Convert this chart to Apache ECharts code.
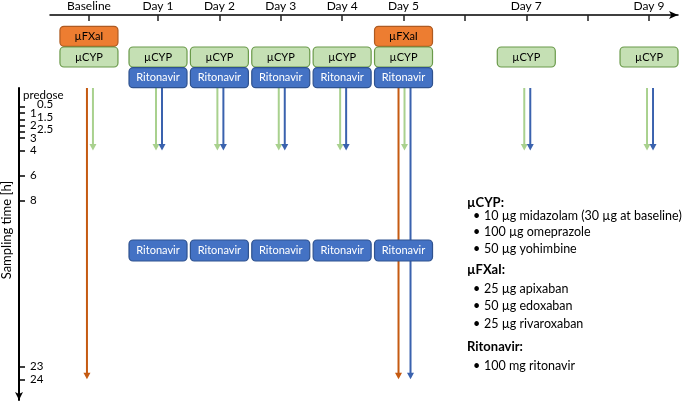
<!DOCTYPE html>
<html><head><meta charset="utf-8">
<script src="https://cdn.jsdelivr.net/npm/echarts@6/dist/echarts.min.js"></script>
<style>html,body{margin:0;padding:0;background:#fff}#c{width:685px;height:403px}</style>
</head><body><div id="c"></div>
<script>
// ---- data ----
const dayLabels = ['Baseline','Day 1','Day 2','Day 3','Day 4','Day 5','Day 7','Day 9'];
const dayValues = [-0.125, 1, 2, 3, 4, 5, 7, 9];
const dayTickValues = [-0.125, 1, 2, 3, 4, 5, 6, 7, 8, 9];
const doseRows = ['µFXaI', 'µCYP', 'Ritonavir'];
const fxaiDoseDays = [-0.125, 5];
const cypDoseDays = [-0.125, 1, 2, 3, 4, 5, 7, 9];
const ritonavirDoseDays = [1, 2, 3, 4, 5];
const ritonavirEveningDays = [1, 2, 3, 4, 5];
const ritonavirEveningTime = [12, 12, 12, 12, 12];
const fxaiSampleDays = [-0.125, 5];
const fxaiSampleEnd = [24, 24];
const cypSampleDays = [-0.125, 1, 2, 3, 4, 5, 7, 9];
const cypSampleEnd = [4, 4, 4, 4, 4, 4, 4, 4];
const ritonavirSampleDays = [1, 2, 3, 4, 5, 7, 9];
const ritonavirSampleEnd = [4, 4, 4, 4, 24, 4, 4];
const predoseLabel = 'predose';
const predoseValue = -0.4;
const timeTickValues = [0.5, 1, 1.5, 2, 2.5, 3, 4, 6, 8, 23, 24];
const timeLabels = ['0.5','1','1.5','2','2.5','3','4','6','8','23','24'];
const timeLabelValues = [0.5, 1, 1.5, 2, 2.5, 3, 4, 6, 8, 23, 24];
const legendTitles = ['µCYP:', 'µFXaI:', 'Ritonavir:'];
const legendItems = [
  ['10 µg midazolam (30 µg at baseline)', '100 µg omeprazole', '50 µg yohimbine'],
  ['25 µg apixaban', '50 µg edoxaban', '25 µg rivaroxaban'],
  ['100 mg ritonavir']
];

// ---- layout / style ----
const FONT = 'Lato';
const xMin = -0.7597, xMax = 9.472;
const yMin = -1, yMax = 25.66;
const legendTitleY = [203, 270, 347];
const legendItemY = [[215.5, 232, 249], [288.5, 306, 324], [366]];
const boxStyles = [
  {fill:'#ED7D31', stroke:'#AE5A21', text:'#000'},
  {fill:'#C5E0B4', stroke:'#6A9A4A', text:'#000'},
  {fill:'#4472C4', stroke:'#2F528F', text:'#fff'}
];
const arrowColors = ['#C55A11', '#A9D18E', '#3A62AE'];

const boxData = [];
[fxaiDoseDays, cypDoseDays, ritonavirDoseDays].forEach((days, r) => days.forEach(d => boxData.push([d, r])));
const eveningData = ritonavirEveningDays.map((d, i) => [d, ritonavirEveningTime[i]]);

const arrowsRaw = [];
[[fxaiSampleDays, fxaiSampleEnd], [cypSampleDays, cypSampleEnd], [ritonavirSampleDays, ritonavirSampleEnd]]
  .forEach(([days, ends], t) => days.forEach((d, i) => arrowsRaw.push({d, e: ends[i], t})));
const arrowData = arrowsRaw.map(a => {
  const same = arrowsRaw.filter(b => b.d === a.d);
  const idx = same.indexOf(a), n = same.length;
  return [a.d, a.e, a.t, (idx - (n - 1) / 2) * 6 + 1];
});

function boxRect(cx, cy, h, style, text) {
  const w = 58;
  return {
    type: 'rect',
    shape: {x: cx - w / 2, y: cy - h / 2, width: w, height: h, r: 4},
    style: {fill: style.fill, stroke: style.stroke, lineWidth: 1.2},
    textContent: {style: {text: text, fill: style.text, font: '11px ' + FONT}},
    textConfig: {position: 'inside'}
  };
}

const graphics = [{
  type: 'text', x: 7, y: 230, rotation: Math.PI / 2,
  style: {text: 'Sampling time [h]', font: '13px ' + FONT, fill: '#000', align: 'center', verticalAlign: 'middle'}
}];
legendTitles.forEach((t, g) => {
  graphics.push({type: 'text', x: 467, y: legendTitleY[g],
    style: {text: t, font: 'bold 13px ' + FONT, fill: '#000', verticalAlign: 'middle'}});
  legendItems[g].forEach((it, k) => {
    graphics.push({type: 'text', x: 473, y: legendItemY[g][k],
      style: {text: '•', font: '12.5px ' + FONT, fill: '#000', verticalAlign: 'middle'}});
    graphics.push({type: 'text', x: 484, y: legendItemY[g][k],
      style: {text: it, font: '12.5px ' + FONT, fill: '#000', verticalAlign: 'middle'}});
  });
});

const chart = echarts.init(document.getElementById('c'), null, {renderer: 'canvas'});
chart.setOption({
  animation: false,
  textStyle: {fontFamily: FONT},
  grid: [
    {left: 50, right: 7, top: 15, height: 5},
    {left: 50, right: 7, top: 88, bottom: 3},
    {left: 50, right: 7, top: 26, height: 62}
  ],
  xAxis: [
    {gridIndex: 0, type: 'value', position: 'top', min: xMin, max: xMax,
     axisLine: {show: true, onZero: false, lineStyle: {color: '#000', width: 1.5}, symbol: ['none', 'arrow'], symbolSize: [6, 9]},
     axisTick: {show: true, inside: true, length: 6, customValues: dayTickValues, lineStyle: {color: '#222', width: 1.5}},
     axisLabel: {show: true, margin: 3, customValues: dayValues, fontSize: 12, color: '#000', fontFamily: FONT,
       showMinLabel: true, showMaxLabel: true,
       formatter: v => { const i = dayValues.findIndex(x => Math.abs(x - v) < 1e-6); return i >= 0 ? dayLabels[i] : ''; }},
     splitLine: {show: false}},
    {gridIndex: 1, type: 'value', min: xMin, max: xMax, show: false},
    {gridIndex: 2, type: 'value', min: xMin, max: xMax, show: false}
  ],
  yAxis: [
    {gridIndex: 0, type: 'value', show: false},
    {gridIndex: 1, type: 'value', position: 'left', inverse: true, min: yMin, max: yMax, offset: 31,
     breaks: [{start: 14, end: 21, gap: 5.3}],
     breakArea: {show: false},
     axisLine: {show: false, onZero: false},
     axisTick: {show: true, inside: true, length: 6, customValues: timeTickValues, lineStyle: {color: '#000', width: 1.5}},
     axisLabel: {show: true, inside: true, margin: 4, customValues: timeLabelValues, color: '#000', fontSize: 11, fontFamily: FONT,
       showMinLabel: true, showMaxLabel: true, hideOverlap: false,
       formatter: v => {
         const i = timeLabelValues.findIndex(x => Math.abs(x - v) < 1e-6);
         if (i < 0) return '';
         return (Math.abs(v % 1) > 0.01 ? '{h|' : '{n|') + timeLabels[i] + '}';
       },
       rich: {
         n: {fontSize: 11.5, fontFamily: FONT, color: '#000', padding: [0, 0, 0, 7]},
         h: {fontSize: 11.5, fontFamily: FONT, color: '#000', padding: [0, 0, 4, 14]}
       }},
     splitLine: {show: false}},
    {gridIndex: 2, type: 'category', inverse: true, data: doseRows, show: false},
    {gridIndex: 1, type: 'value', position: 'left', inverse: true, min: yMin, max: yMax, offset: 31,
     axisLine: {show: true, onZero: false, lineStyle: {color: '#000', width: 2}, symbol: ['arrow', 'none'], symbolSize: [6, 8]},
     axisTick: {show: false},
     axisLabel: {show: true, inside: true, margin: 4, customValues: [predoseValue], color: '#000', fontSize: 11.5, fontFamily: FONT,
       showMinLabel: true, formatter: () => predoseLabel},
     splitLine: {show: false}}
  ],
  graphic: graphics,
  series: [
    {type: 'custom', xAxisIndex: 1, yAxisIndex: 1, z: 2, data: arrowData, encode: {x: 0, y: 1},
     renderItem: (params, api) => {
       const day = api.value(0), end = api.value(1), t = api.value(2), off = api.value(3);
       const top = api.coord([day, yMin]);
       const tip = api.coord([day, end]);
       const x = top[0] + off, c = arrowColors[t];
       return {type: 'group', children: [
         {type: 'line', shape: {x1: x, y1: top[1], x2: x, y2: tip[1] - 5}, style: {stroke: c, lineWidth: 2}},
         {type: 'polygon', shape: {points: [[x - 3.5, tip[1] - 6.5], [x + 3.5, tip[1] - 6.5], [x, tip[1]]]}, style: {fill: c}}
       ]};
     }},
    {type: 'custom', xAxisIndex: 2, yAxisIndex: 2, z: 5, data: boxData, encode: {x: 0, y: 1},
     renderItem: (params, api) => {
       const r = api.value(1);
       const p = api.coord([api.value(0), r]);
       return boxRect(p[0], p[1], 20, boxStyles[r], doseRows[r]);
     }},
    {type: 'custom', xAxisIndex: 1, yAxisIndex: 1, z: 5, data: eveningData, encode: {x: 0, y: 1},
     renderItem: (params, api) => {
       const p = api.coord([api.value(0), api.value(1)]);
       return boxRect(p[0], p[1], 21, boxStyles[2], doseRows[2]);
     }}
  ]
});
</script></body></html>
